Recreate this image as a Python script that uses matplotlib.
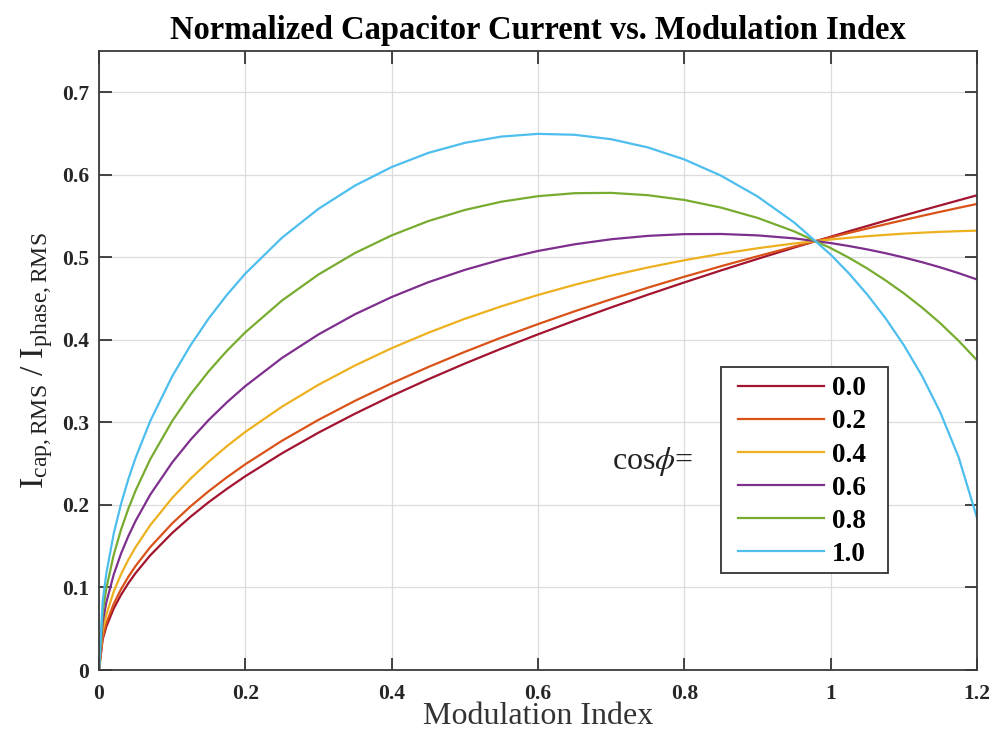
import matplotlib
matplotlib.use("Agg")
import matplotlib.pyplot as plt
from matplotlib.patches import Rectangle

plt.rcParams['font.family'] = ['Liberation Serif', 'DejaVu Serif']
plt.rcParams['mathtext.fontset'] = 'stix'

# Modulation index sample points
mod_index = [0, 0.005, 0.01, 0.02, 0.03, 0.04, 0.05, 0.07, 0.1, 0.125, 0.15, 0.175, 0.2,
             0.25, 0.3, 0.35, 0.4, 0.45, 0.5, 0.55, 0.6, 0.65, 0.7, 0.75, 0.8, 0.85, 0.9,
             0.95, 1.0, 1.025, 1.05, 1.075, 1.1, 1.125, 1.15, 1.175, 1.2]

# Normalized capacitor current, one list per cos(phi)
cos_labels = ['0.0', '0.2', '0.4', '0.6', '0.8', '1.0']
i_cos00 = [0, .0371, .0525, .0743, .0909, .1050, .1174, .1389, .1660, .1856, .2034, .2196,
           .2348, .2625, .2876, .3106, .3321, .3522, .3713, .3894, .4067, .4233, .4393,
           .4547, .4696, .4841, .4981, .5118, .5250, .5316, .5380, .5444, .5507, .5569,
           .5630, .5691, .5752]
i_cos02 = [0, .0400, .0565, .0799, .0977, .1128, .1260, .1489, .1776, .1982, .2167, .2336,
           .2493, .2777, .3031, .3262, .3474, .3671, .3855, .4028, .4191, .4346, .4492,
           .4632, .4765, .4892, .5013, .5130, .5242, .5296, .5349, .5401, .5452, .5503,
           .5552, .5600, .5647]
i_cos04 = [0, .0475, .0671, .0947, .1158, .1334, .1488, .1754, .2084, .2317, .2525, .2713,
           .2885, .3190, .3456, .3690, .3899, .4086, .4255, .4407, .4544, .4667, .4778,
           .4877, .4965, .5042, .5110, .5168, .5216, .5237, .5256, .5272, .5287, .5299,
           .5309, .5317, .5323]
i_cos06 = [0, .0579, .0818, .1153, .1408, .1620, .1806, .2124, .2514, .2788, .3030, .3245,
           .3440, .3780, .4066, .4311, .4519, .4698, .4848, .4974, .5077, .5158, .5219,
           .5260, .5281, .5283, .5266, .5230, .5173, .5137, .5096, .5050, .4998, .4941,
           .4878, .4808, .4732]
i_cos08 = [0, .0699, .0987, .1391, .1697, .1952, .2174, .2553, .3016, .3338, .3620, .3869,
           .4092, .4476, .4792, .5053, .5266, .5439, .5574, .5674, .5741, .5777, .5781,
           .5753, .5695, .5603, .5478, .5315, .5112, .4995, .4865, .4721, .4564, .4391,
           .4200, .3988, .3753]
i_cos10 = [0, .0829, .1169, .1647, .2008, .2309, .2571, .3016, .3558, .3933, .4260, .4547,
           .4803, .5237, .5588, .5870, .6094, .6265, .6387, .6463, .6496, .6485, .6431,
           .6332, .6186, .5990, .5738, .5423, .5033, .4805, .4549, .4262, .3936, .3561,
           .3119, .2575, .1844]

series = [i_cos00, i_cos02, i_cos04, i_cos06, i_cos08, i_cos10]
colors = ['#A2142F', '#D95319', '#EDB120', '#7E2F8E', '#77AC30', '#4DBEEE']

x_ticks = [0, 0.2, 0.4, 0.6, 0.8, 1.0, 1.2]
x_tick_labels = ['0', '0.2', '0.4', '0.6', '0.8', '1', '1.2']
y_ticks = [0, 0.1, 0.2, 0.3, 0.4, 0.5, 0.6, 0.7]
y_tick_labels = ['0', '0.1', '0.2', '0.3', '0.4', '0.5', '0.6', '0.7']

W, H = 992, 738
fig = plt.figure(figsize=(W / 100, H / 100), dpi=100)
ax = fig.add_axes([99/W, 68/H, 878/W, 619/H])

for vals, col, lab in zip(series, colors, cos_labels):
    ax.plot(mod_index, vals, color=col, lw=1.6, label=lab)

ax.set_xlim(0, 1.2)
ax.set_ylim(0, 0.75)
ax.set_xticks(x_ticks)
ax.set_xticklabels(x_tick_labels, fontweight='bold', fontsize=15.5)
ax.set_yticks(y_ticks)
ax.set_yticklabels(y_tick_labels, fontweight='bold', fontsize=15.5)
ax.tick_params(direction='in', length=9, width=1.2, top=True, right=True,
               colors='#262626')
ax.tick_params(axis='x', pad=10)
ax.tick_params(axis='y', pad=7)
ax.grid(True, color='#dcdcdc', lw=0.9)
ax.set_axisbelow(True)
for sp in ax.spines.values():
    sp.set_color('#3a3a3a')
    sp.set_linewidth(1.3)

ax.set_title('Normalized Capacitor Current vs. Modulation Index',
             fontweight='bold', fontsize=23.5, pad=9)
ax.set_xlabel('Modulation Index', fontsize=23, color='#333333', labelpad=-1)
ax.set_ylabel(r'$\mathregular{I_{cap,RMS}\ /\ I_{phase,RMS}}$', fontsize=24.5,
              color='#222222', labelpad=5)

# legend box (white, black edge) drawn separately for exact sizing
box = Rectangle((721/W, 1 - 573/H), 167/W, 206/H, transform=fig.transFigure,
                facecolor='white', edgecolor='#333333', lw=1.3, zorder=4)
ax.add_artist(box)

leg = ax.legend(loc='upper left', bbox_to_anchor=(728/W, 1 - 366/H),
                bbox_transform=fig.transFigure, borderaxespad=0,
                prop={'weight': 'bold', 'size': 19.5}, frameon=False,
                handlelength=3.15, handletextpad=0.3,
                labelspacing=0.3, borderpad=0.38)
leg.set_zorder(6)

fig.text(612/W, 1 - 461/H, r'cos$\phi$=', fontsize=23, va='center', ha='left',
         color='#222222')

fig.savefig('out.png', dpi=100)
